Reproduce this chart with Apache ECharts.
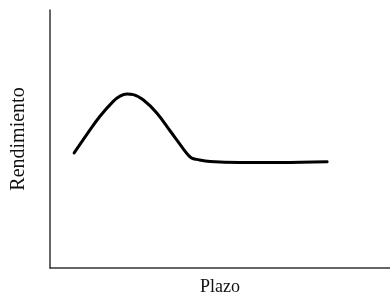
<!DOCTYPE html>
<html>
<head>
<meta charset="utf-8">
<script src="https://cdn.jsdelivr.net/npm/echarts@6/dist/echarts.min.js"></script>
<style>
  html, body { margin: 0; padding: 0; background: #fff; }
  #chart { width: 390px; height: 295px; }
</style>
</head>
<body>
<div id="chart"></div>
<script>
// plazo (x) vs rendimiento (y) (0-100 scale)
var plazo = [7.1, 10.8, 14.7, 18.6, 20.6, 22.6, 24.5, 27.4, 31.4, 35.3, 39.2, 40.7, 41.7, 43.1,
  47.1, 55.9, 67.6, 81.5]
var rendimiento = [44.6, 51.7, 58.8, 64.6, 66.6, 67.4, 67.2, 65.2, 60.1, 53.2, 46.2, 43.7, 42.6, 42.1,
  41.3, 40.9, 40.9, 41.2]

var chart = echarts.init(document.getElementById('chart'))
var fontFamily = '"Liberation Serif", "DejaVu Serif", serif'

chart.setOption({
  animation: false,
  grid: {
    left: 50,
    right: 0,
    top: 10,
    bottom: 27,
    containLabel: false,
    outerBoundsMode: 'none'
  },
  xAxis: {
    type: 'value',
    min: 0,
    max: 100,
    name: 'Plazo',
    nameLocation: 'middle',
    nameGap: 10,
    nameTextStyle: { fontFamily: fontFamily, fontSize: 18, color: '#111', verticalAlign: 'top' },
    axisLine: { show: true, lineStyle: { color: '#333', width: 1.5 } },
    axisTick: { show: false },
    axisLabel: { show: false },
    splitLine: { show: false }
  },
  yAxis: {
    type: 'value',
    min: 0,
    max: 100,
    name: 'Rendimiento',
    nameLocation: 'middle',
    nameGap: 21,
    nameTextStyle: { fontFamily: fontFamily, fontSize: 20, color: '#111' },
    axisLine: { show: true, lineStyle: { color: '#333', width: 1.5 } },
    axisTick: { show: false },
    axisLabel: { show: false },
    splitLine: { show: false }
  },
  series: [{
    type: 'line',
    data: plazo.map(function (x, i) { return [x, rendimiento[i]] }),
    smooth: 0.4,
    showSymbol: false,
    lineStyle: { color: '#000', width: 3, join: 'round', cap: 'round' }
  }]
})
</script>
</body>
</html>
